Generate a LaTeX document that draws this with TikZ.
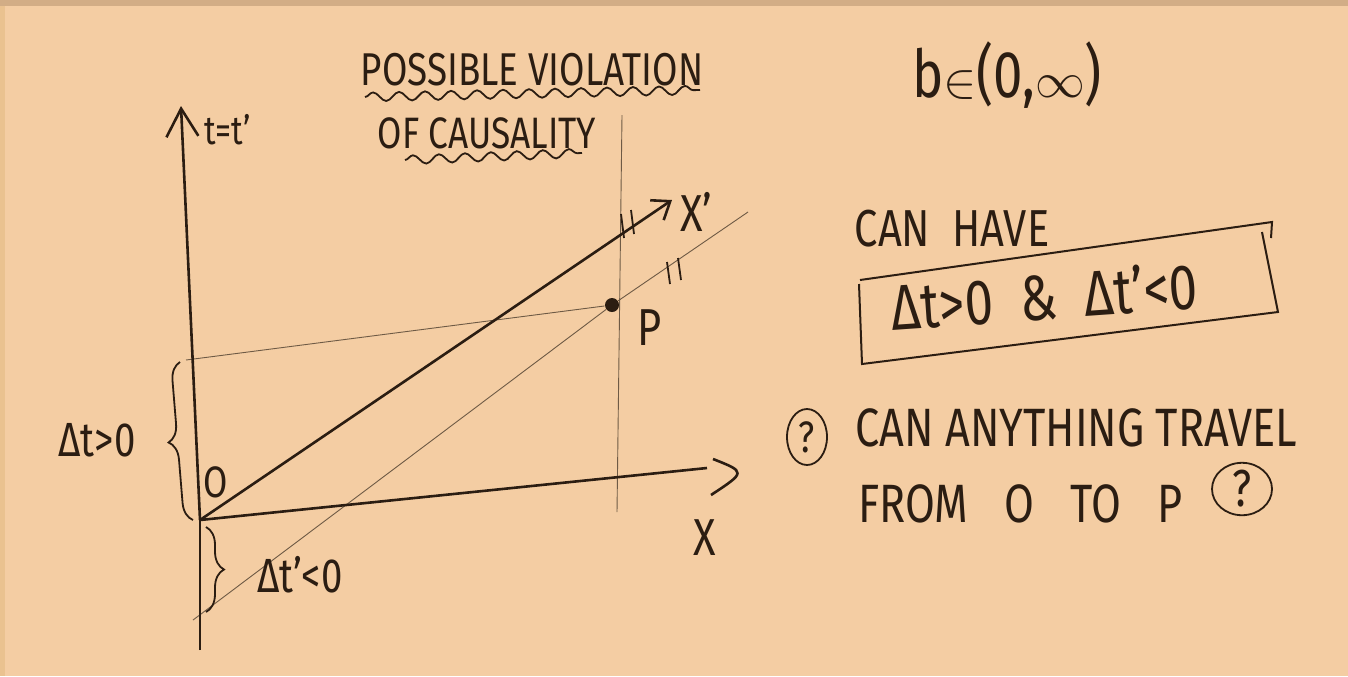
\documentclass[tikz,border=0pt]{standalone}
\usepackage{amsmath,amssymb}
\usepackage{fontspec}
\setmainfont{Fira Sans}[FakeStretch=0.8]
\usepackage{tikz}
\usetikzlibrary{arrows.meta,shapes.geometric,decorations.pathmorphing,decorations.pathreplacing}
\usepackage{xcolor}
\definecolor{paper}{HTML}{F4CDA3}
\definecolor{paperedge}{HTML}{D2AD86}
\definecolor{paperside}{HTML}{EAC290}
\definecolor{ink}{HTML}{2B1D12}
\definecolor{pencil}{HTML}{6E5A45}

\begin{document}
\begin{tikzpicture}[x=0.5pt, y=-0.5pt,
  every node/.style={font=\fontsize{20}{24}\selectfont, text=ink, inner sep=0pt},
  axis/.style={draw=ink, line width=1.3pt},
  guide/.style={draw=pencil, line width=0.45pt},
  wavy/.style={draw=ink, line width=0.9pt, decorate, decoration={snake, amplitude=2.2pt, segment length=13pt}},
  bracemark/.style={draw=ink, line width=0.9pt, decorate, decoration={brace, amplitude=9pt}},
  tickmark/.style={draw=ink, line width=0.9pt},
  qmark/.style={draw=ink, ellipse, line width=0.9pt}]
  \fill[paper] (0,0) rectangle (1348,676);
  \fill[paperside] (0,0) rectangle (5,676);
  \fill[paperedge] (0,0) rectangle (1348,6);
  \useasboundingbox (0,0) rectangle (1348,676);

  \coordinate (O) at (200,520);
  \coordinate (tbot) at (200,650);
  \coordinate (ttop) at (181,106);
  \coordinate (xend) at (707,468);
  \coordinate (xpend) at (672,200);
  \coordinate (parbot) at (193,620);
  \coordinate (partop) at (748,212);
  \coordinate (tmark) at (186,360);
  \coordinate (vtop) at (622,115);
  \coordinate (vbot) at (617,512);
  \node[circle, fill=ink, minimum size=7pt] (P) at (612,305) {};

  \draw[guide] (tmark) -- (P);
  \draw[guide] (parbot) -- (P) -- (partop);
  \draw[guide] (vtop) -- (vbot);
  \draw[axis] (tbot) -- (O);
  \draw[axis, -{Straight Barb[length=14pt, width=16pt]}] (O) -- (ttop);
  \draw[axis] (O) -- (xend);
  \draw[axis] (713,459) .. controls (746,472) .. (711,495);
  \draw[axis, -{Straight Barb[length=8pt, width=12pt]}] (O) -- (xpend);
  \draw[tickmark] (621,214) -- (624,238);
  \draw[tickmark] (631,210) -- (634,234);
  \draw[tickmark] (667,262) -- (670,284);
  \draw[tickmark] (678,258) -- (681,280);

  \draw[bracemark] (193,520) -- (180,362);
  \draw[bracemark] (206,527) -- (206,612);
  \node[font=\fontsize{24}{28}\selectfont] (dtpos) at (97,440) {Δt>0};
  \node[font=\fontsize{24}{28}\selectfont] (dtneg) at (300,575) {Δt'<0};
  \node[font=\fontsize{22}{26}\selectfont] (olab) at (216,482) {O};
  \node[anchor=west] (tlab) at (204,130) {t=t'};
  \node[font=\fontsize{26}{30}\selectfont] (xplab) at (696,212) {X'};
  \node[font=\fontsize{26}{30}\selectfont] (xlab) at (705,538) {X};
  \node[font=\fontsize{26}{30}\selectfont] (plab) at (650,328) {P};

  \node[font=\fontsize{23}{27}\selectfont] (title1) at (532,70) {POSSIBLE VIOLATION};
  \draw[wavy] (365,97) -- (700,90);
  \node[font=\fontsize{22}{26}\selectfont] (title2) at (487,133) {OF CAUSALITY};
  \draw[wavy] (405,160) -- (582,153);

  \node[font=\fontsize{33}{38}\selectfont] (brange) at (1007,75) {b$\in$(0,$\infty$)};
  \node[font=\fontsize{26}{30}\selectfont] (canhave) at (952,229) {CAN\ \ HAVE};
  \node[font=\fontsize{32}{38}\selectfont, rotate=4] (ineq) at (1044,296) {Δt>0\ \ \&\ \ Δt'<0};
  \draw[ink, line width=1pt] (860,280) -- (1272,222) -- (1271,238);
  \draw[ink, line width=1pt] (1262,232) -- (1278,312) -- (862,364) -- (859,284);

  \node[qmark, minimum width=20pt, minimum height=28pt, font=\fontsize{22}{26}\selectfont] (q1) at (807,437) {?};
  \node[anchor=west, font=\fontsize{27}{32}\selectfont] (travel) at (855,428) {CAN ANYTHING TRAVEL};
  \node[anchor=west, font=\fontsize{27}{32}\selectfont] (fromto) at (858,504) {FROM\hspace{18pt}O\hspace{18pt}TO\hspace{18pt}P};
  \node[qmark, minimum width=30pt, minimum height=26pt, font=\fontsize{26}{30}\selectfont] (q2) at (1242,489) {?};
\end{tikzpicture}
\end{document}
